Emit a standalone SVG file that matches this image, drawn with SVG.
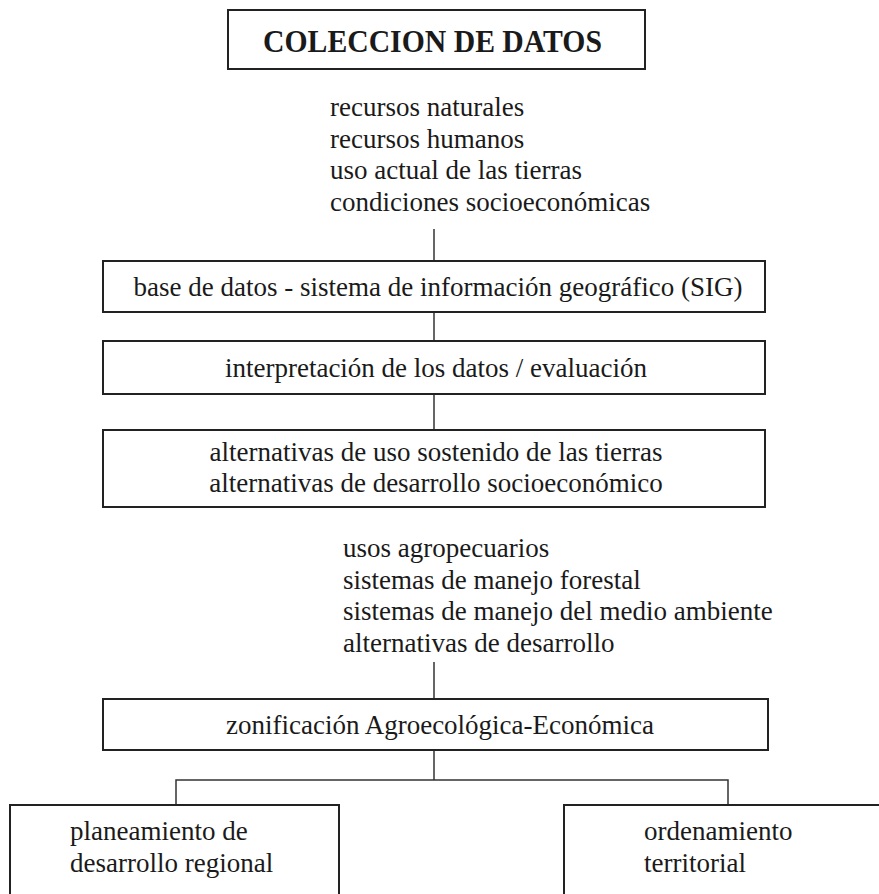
<svg xmlns="http://www.w3.org/2000/svg" width="879" height="894" viewBox="0 0 879 894">
<style>
.box{fill:#fff;stroke:#222;stroke-width:2}
.t{font-family:"Liberation Serif","Times New Roman",serif;font-size:27px;fill:#1a1a1a}
.c{text-anchor:middle}
.title{font-family:"Liberation Serif","Times New Roman",serif;font-size:31px;font-weight:bold;fill:#1a1a1a}
.ln{stroke:#333;stroke-width:1.5;fill:none}
</style>
<rect width="879" height="894" fill="#fff"/>
<g id="connectors">
<line class="ln" x1="434" y1="229" x2="434" y2="261"/>
<line class="ln" x1="434" y1="312" x2="434" y2="341"/>
<line class="ln" x1="434" y1="394" x2="434" y2="430"/>
<line class="ln" x1="434" y1="662" x2="434" y2="699"/>
<line class="ln" x1="434" y1="750" x2="434" y2="780"/>
<polyline class="ln" points="176,805 176,780 728,780 728,805"/>
</g>
<g id="n-coleccion">
<rect class="box" x="228" y="10" width="417" height="59"/>
<text class="title" x="263" y="52" textLength="339" lengthAdjust="spacingAndGlyphs">COLECCION DE DATOS</text>
</g>
<g id="n-recursos">
<text class="t" x="330" y="116">recursos naturales</text>
<text class="t" x="330" y="148">recursos humanos</text>
<text class="t" x="330" y="179">uso actual de las tierras</text>
<text class="t" x="330" y="211">condiciones socioeconómicas</text>
</g>
<g id="n-base">
<rect class="box" x="103" y="261" width="662" height="51"/>
<text class="t c" x="438" y="296">base de datos - sistema de información geográfico (SIG)</text>
</g>
<g id="n-interpretacion">
<rect class="box" x="103" y="341" width="662" height="53"/>
<text class="t c" x="436" y="377">interpretación de los datos / evaluación</text>
</g>
<g id="n-alternativas">
<rect class="box" x="103" y="430" width="662" height="77"/>
<text class="t c" x="436" y="461">alternativas de uso sostenido de las tierras</text>
<text class="t c" x="436" y="492">alternativas de desarrollo socioeconómico</text>
</g>
<g id="n-usos">
<text class="t" x="343" y="557">usos agropecuarios</text>
<text class="t" x="343" y="589">sistemas de manejo forestal</text>
<text class="t" x="343" y="620">sistemas de manejo del medio ambiente</text>
<text class="t" x="343" y="652">alternativas de desarrollo</text>
</g>
<g id="n-zonificacion">
<rect class="box" x="103" y="699" width="665" height="51"/>
<text class="t c" x="440" y="734">zonificación Agroecológica-Económica</text>
</g>
<g id="n-planeamiento">
<rect class="box" x="10" y="805" width="329" height="110"/>
<text class="t" x="70" y="840">planeamiento de</text>
<text class="t" x="70" y="872">desarrollo regional</text>
</g>
<g id="n-ordenamiento">
<rect class="box" x="564" y="805" width="340" height="110"/>
<text class="t" x="644" y="840">ordenamiento</text>
<text class="t" x="644" y="872">territorial</text>
</g>
</svg>
